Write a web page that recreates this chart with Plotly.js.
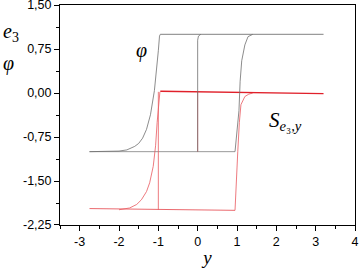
<!DOCTYPE html>
<html><head><meta charset="utf-8">
<script src="https://cdn.plot.ly/plotly-3.0.1.min.js"></script>
<style>html,body{margin:0;padding:0;background:#fff}#c{width:359px;height:270px}</style>
</head><body><div id="c"></div>
<script>
// phi, case A (exponential rise near y=-1)
const phiA_x = [-2.75, -2.0, -1.8, -1.6, -1.5, -1.4, -1.3, -1.2, -1.1, -1.05, -1.0, -0.97, -0.95];
const phiA_v = [-1.0, -0.99, -0.97, -0.91, -0.86, -0.77, -0.62, -0.37, 0.04, 0.34, 0.72, 0.97, 1.0];
// phi upper plateau
const phiTop_x = [-0.95, 3.2];
const phiTop_v = [1.0, 1.0];
// phi lower plateau
const phiBot_x = [-2.75, 0.95];
const phiBot_v = [-1.0, -1.0];
// phi, case B (step at y=0)
const phiB_x = [0.0, 0.0, 0.02, 0.08];
const phiB_v = [-1.0, 0.9, 0.97, 1.0];
// phi, case C (rise near y=1)
const phiC_x = [0.95, 1.0, 1.05, 1.08, 1.12, 1.2, 1.28, 1.4];
const phiC_v = [-1.0, -0.7, -0.3, 0.2, 0.55, 0.82, 0.96, 1.0];

// S_e3y curves
const sA_x = [-2.0, -1.73, -1.55, -1.43, -1.3, -1.22, -1.13, -1.07, -1.03, -1.0, -0.96];
const sA_v = [-1.99, -1.96, -1.9, -1.82, -1.68, -1.53, -1.25, -0.9, -0.5, -0.2, 0.02];
const sTop_x = [-0.95, 0.5, 1.5, 2.5, 3.2];
const sTop_v = [0.03, 0.02, 0.01, 0.0, -0.01];
const sBot_x = [-2.75, -1.0, 0.0, 0.95];
const sBot_v = [-1.97, -1.98, -1.99, -2.0];
const sStep1_x = [-1.0, -1.0];
const sStep1_v = [-1.99, 0.02];
const sStepB_x = [0.0, 0.0];
const sStepB_v = [-1.0, 0.02];
const sC_x = [0.95, 0.98, 1.02, 1.06, 1.1, 1.2, 1.3, 1.4];
const sC_v = [-2.0, -1.5, -1.0, -0.5, -0.2, -0.06, -0.02, 0.0];

const xTickVals = [-3, -2, -1, 0, 1, 2, 3, 4];
const xTickText = ['-3', '-2', '-1', '0', '1', '2', '3', '4'];
const yTickVals = [1.5, 0.75, 0, -0.75, -1.5, -2.25];
const yTickText = ['1,50', '0,75', '0,00', '-0,75', '-1,50', '-2,25'];

const gray = '#6e6e6e', red = '#e8585e';
function tr(x, y, c, w) { return {x: x, y: y, type: 'scatter', mode: 'lines', line: {color: c, width: w}, hoverinfo: 'skip'}; }
const data = [
  tr(phiBot_x, phiBot_v, '#9a9a9a', 1),
  tr(phiTop_x, phiTop_v, '#9a9a9a', 1.3),
  tr(sBot_x, sBot_v, red, 0.9),
  tr(sA_x, sA_v, red, 0.8),
  tr(sStep1_x, sStep1_v, red, 0.8),
  tr(sStepB_x, sStepB_v, red, 0.8),
  tr(sC_x, sC_v, red, 0.8),
  tr(sTop_x, sTop_v, '#e0202a', 1.3),
  tr(phiA_x, phiA_v, gray, 0.8),
  tr(phiB_x, phiB_v, gray, 0.8),
  tr(phiC_x, phiC_v, gray, 0.8)
];
const tickFont = {family: 'Liberation Sans, Arial, sans-serif', size: 12.5, color: '#000'};
const serif = 'Liberation Serif, Times New Roman, serif';
const layout = {
  width: 359, height: 270,
  margin: {l: 60, r: 4, t: 5, b: 45},
  paper_bgcolor: '#fff', plot_bgcolor: '#fff',
  showlegend: false,
  xaxis: {
    range: [-3.5, 4.0001], tickvals: xTickVals, ticktext: xTickText, ticks: 'outside', ticklen: 5, tickwidth: 1, tickcolor: '#000',
    minor: {dtick: 0.5, tick0: 0, ticks: 'outside', ticklen: 3, tickcolor: '#000'},
    showgrid: false, zeroline: false, showline: true, mirror: true, linecolor: '#000', linewidth: 1,
    tickfont: tickFont, ticklabeloverflow: 'allow',
    title: {text: '<i>y</i>', font: {family: serif, size: 19, color: '#000'}, standoff: 2}
  },
  yaxis: {
    range: [-2.2501, 1.5001], tickvals: yTickVals, ticktext: yTickText, ticks: 'outside', ticklen: 5, tickwidth: 1, tickcolor: '#000',
    minor: {dtick: 0.375, tick0: 0, ticks: 'outside', ticklen: 3, tickcolor: '#000'},
    showgrid: false, zeroline: false, showline: true, mirror: true, linecolor: '#000', linewidth: 1,
    tickfont: tickFont, ticklabeloverflow: 'allow'
  },
  annotations: [
    {xref: 'paper', yref: 'paper', x: -0.165, y: 0.873, xanchor: 'center', yanchor: 'middle', showarrow: false,
     text: '<i>e</i><sub>3</sub>', font: {family: serif, size: 20, color: '#000'}},
    {xref: 'paper', yref: 'paper', x: -0.175, y: 0.735, xanchor: 'center', yanchor: 'middle', showarrow: false,
     text: '<i>φ</i>', font: {family: serif, size: 20, color: '#000'}},
    {xref: 'x', yref: 'y', x: -1.43, y: 0.72, xanchor: 'center', yanchor: 'middle', showarrow: false,
     text: '<i>φ</i>', font: {family: serif, size: 20, color: '#000'}},
    {xref: 'x', yref: 'y', x: 1.75, y: -0.48, xanchor: 'left', yanchor: 'middle', showarrow: false,
     text: '<i>S</i><sub><i>e</i>₃<i>,y</i></sub>', font: {family: serif, size: 21, color: '#000'}}
  ]
};
Plotly.newPlot('c', data, layout, {staticPlot: true, displayModeBar: false});
</script></body></html>
